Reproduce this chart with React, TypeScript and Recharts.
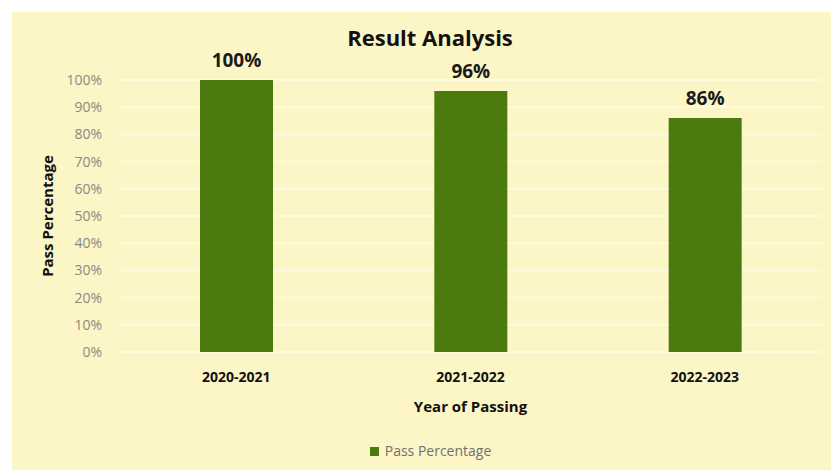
import { BarChart, Bar, XAxis, YAxis, CartesianGrid, Legend, LabelList } from 'recharts'

const years = ['2020-2021', '2021-2022', '2022-2023']
const passRates = [100, 96, 86]
const yTicks = [0, 10, 20, 30, 40, 50, 60, 70, 80, 90, 100]

const data = years.map((year, i) => ({ year, pass: passRates[i] }))

const FONT = '"Open Sans", Lato, sans-serif'

function YTitle(props: any) {
  const vb = props.viewBox
  const cy = vb.y + vb.height / 2
  return (
    <text
      x={47}
      y={cy}
      transform={`rotate(-90, 47, ${cy})`}
      textAnchor="middle"
      dominantBaseline="central"
      fontSize={15}
      fontWeight={700}
      fill="#111"
      fontFamily={FONT}
    >
      Pass Percentage
    </text>
  )
}

export default function App() {
  return (
    <div style={{ position: 'absolute', left: 0, top: 0, width: 831, height: 470, background: '#fff', fontFamily: FONT }}>
      <div style={{ position: 'absolute', left: 12, top: 12, width: 819, height: 458, background: '#fcf5c6' }} />
      <div
        style={{
          position: 'absolute',
          left: 0,
          top: 23,
          width: 860,
          textAlign: 'center',
          fontSize: 22,
          fontWeight: 700,
          color: '#111',
          lineHeight: '28px',
        }}
      >
        Result Analysis
      </div>
      <div style={{ position: 'absolute', left: 0, top: 0 }}>
        <BarChart width={831} height={470} data={data} margin={{ top: 80, right: 9, left: 0, bottom: 58 }}>
          <CartesianGrid vertical={false} stroke="#fffce4" strokeWidth={1.5} />
          <XAxis
            dataKey="year"
            axisLine={false}
            tickLine={false}
            tickSize={0}
            tickMargin={20}
            tick={{ fontSize: 14, fontWeight: 700, fill: '#111', fontFamily: FONT }}
            height={60}
            label={{ value: 'Year of Passing', position: 'insideBottom', offset: 0, fontSize: 15, fontWeight: 700, fill: '#111', fontFamily: FONT }}
          />
          <YAxis
            width={119}
            domain={[0, 100]}
            ticks={yTicks}
            interval={0}
            axisLine={false}
            tickLine={false}
            tickSize={0}
            tickMargin={17}
            tickFormatter={(v) => `${v}%`}
            tick={{ fontSize: 14, fill: '#8c8a80', fontFamily: FONT }}
            label={<YTitle />}
          />
          <Legend
            verticalAlign="middle"
            align="center"
            iconType="square"
            iconSize={9}
            wrapperStyle={{ left: 20, width: 831, top: 439 }}
            formatter={(v) => <span style={{ color: '#707070', fontSize: 14, fontFamily: FONT, marginLeft: 2 }}>{v}</span>}
          />
          <Bar dataKey="pass" name="Pass Percentage" fill="#4b7a0e" barSize={73} isAnimationActive={false}>
            <LabelList
              dataKey="pass"
              position="top"
              offset={13}
              formatter={(v: any) => `${v}%`}
              style={{ fontSize: 19, fontWeight: 700, fill: '#1a1a1a', fontFamily: FONT }}
            />
          </Bar>
        </BarChart>
      </div>
    </div>
  )
}
